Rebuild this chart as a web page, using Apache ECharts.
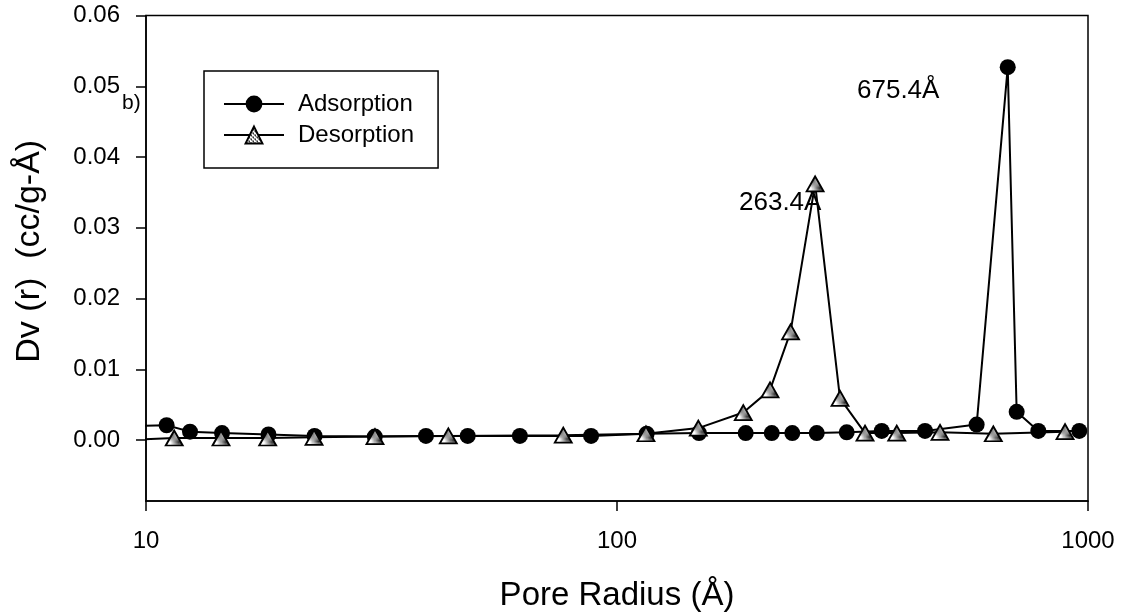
<!DOCTYPE html>
<html>
<head>
<meta charset="utf-8">
<script src="https://cdn.jsdelivr.net/npm/echarts@6/dist/echarts.min.js"></script>
<style>
html,body{margin:0;padding:0;background:#fff;}
#chart{width:1122px;height:613px;}
</style>
</head>
<body>
<div id="chart"></div>
<script>
// Pore radius (Å) and Dv(r) values
var adsR = [9.6, 11.06, 12.4, 14.5, 18.2, 22.8, 30.6, 39.3, 48.2, 62.2, 88.1, 115.6, 149.3, 187.6, 213.1, 235.6, 265.5, 307.4, 364.8, 450.8, 580.2, 675.4, 705.6, 784.3, 958.3];
var adsV = [0.0020, 0.0021, 0.0012, 0.0010, 0.0008, 0.0006, 0.0005, 0.0006, 0.0006, 0.0006, 0.0006, 0.0009, 0.0010, 0.0010, 0.0010, 0.0010, 0.0010, 0.0011, 0.0013, 0.0013, 0.0022, 0.0527, 0.0040, 0.0013, 0.0013];
var desR = [9.6, 11.48, 14.43, 18.13, 22.74, 30.63, 43.84, 76.9, 115.2, 148.8, 185.4, 211.3, 233.6, 263.4, 297.5, 336.2, 392.6, 485.1, 629.5, 893.8];
var desV = [0.0001, 0.0003, 0.0003, 0.0003, 0.0004, 0.0005, 0.0006, 0.0007, 0.0009, 0.0017, 0.0039, 0.0071, 0.0153, 0.0362, 0.0059, 0.0010, 0.0010, 0.0011, 0.0009, 0.0012];
var yTicks = [0, 0.01, 0.02, 0.03, 0.04, 0.05, 0.06];
var xTicks = [10, 100, 1000];
var seriesNames = ['Adsorption', 'Desorption'];
var peakLabels = ['675.4Å', '263.4Å'];

function zip(a, b) { return a.map(function (v, i) { return [v, b[i]]; }); }

// dotted gray fill for triangles
var pc = document.createElement('canvas');
pc.width = 4; pc.height = 4;
var pctx = pc.getContext('2d');
pctx.fillStyle = '#fff'; pctx.fillRect(0, 0, 4, 4);
pctx.fillStyle = '#333';
pctx.fillRect(0, 0, 2, 1); pctx.fillRect(2, 2, 2, 1); pctx.fillRect(1, 1, 1, 1); pctx.fillRect(3, 3, 1, 1);
var pattern = { image: pc, repeat: 'repeat' };

var FONT = 'Liberation Sans, Arial, sans-serif';
var chart = echarts.init(document.getElementById('chart'), null, { renderer: 'canvas' });
chart.setOption({
  animation: false,
  backgroundColor: '#fff',
  grid: { left: 146, top: 15.5, right: 34, bottom: 112, containLabel: false, outerBoundsMode: 'none', show: true, borderColor: '#000', borderWidth: 1.5, backgroundColor: 'transparent' },
  xAxis: {
    type: 'log', logBase: 10, min: 10, max: 1000,
    name: 'Pore Radius (Å)', nameLocation: 'middle', nameGap: 78,
    nameTextStyle: { fontFamily: FONT, fontSize: 33, color: '#000' },
    axisLine: { show: true, onZero: false, lineStyle: { color: '#000', width: 1.5 } },
    axisTick: { show: true, inside: false, length: 10, lineStyle: { color: '#000', width: 1.5 }, customValues: xTicks },
    axisLabel: { fontFamily: FONT, fontSize: 24, color: '#000', margin: 28, customValues: xTicks, formatter: function (v) { return String(Math.round(v)); } },
    splitLine: { show: false },
    minorTick: { show: false }
  },
  yAxis: {
    type: 'value', min: -0.0086, max: 0.06,
    name: 'Dv (r)  (cc/g-Å)', nameLocation: 'middle', nameGap: 99, nameRotate: 90,
    nameTextStyle: { fontFamily: FONT, fontSize: 34, color: '#000', padding: [0, 0, 0, 14] },
    axisLine: { show: true, onZero: false, lineStyle: { color: '#000', width: 1.5 } },
    axisTick: { show: true, inside: false, length: 10, lineStyle: { color: '#000', width: 1.5 }, customValues: yTicks },
    axisLabel: { fontFamily: FONT, fontSize: 24, color: '#000', margin: 26, customValues: yTicks, formatter: function (v) { return v.toFixed(2); } },
    splitLine: { show: false }
  },
  legend: {
    orient: 'vertical', left: 204, top: 71,
    padding: [21, 24, 21, 19], itemGap: 7,
    itemWidth: 60, itemHeight: 21,
    borderColor: '#000', borderWidth: 1.5,
    textStyle: { fontFamily: FONT, fontSize: 24, color: '#000', padding: [0, 0, 0, 9] },
    data: seriesNames
  },
  series: [
    {
      name: seriesNames[0], type: 'line', data: zip(adsR, adsV),
      symbol: 'circle', symbolSize: 16, clip: true,
      lineStyle: { color: '#000', width: 2 },
      itemStyle: { color: '#000', borderColor: '#000', borderWidth: 0 },
      z: 3
    },
    {
      name: seriesNames[1], type: 'line', data: zip(desR, desV),
      symbol: 'triangle', symbolSize: [17, 15], clip: true,
      lineStyle: { color: '#000', width: 2 },
      itemStyle: { color: pattern, borderColor: '#000', borderWidth: 1.8 },
      z: 4
    }
  ],
  graphic: [
    { type: 'text', left: 122, top: 93, style: { text: 'b)', font: '21px ' + FONT, fill: '#000' } },
    { type: 'text', left: 857, top: 78, style: { text: peakLabels[0], font: '26px ' + FONT, fill: '#000' } },
    { type: 'text', left: 739, top: 190, style: { text: peakLabels[1], font: '26px ' + FONT, fill: '#000' } }
  ]
});
</script>
</body>
</html>
